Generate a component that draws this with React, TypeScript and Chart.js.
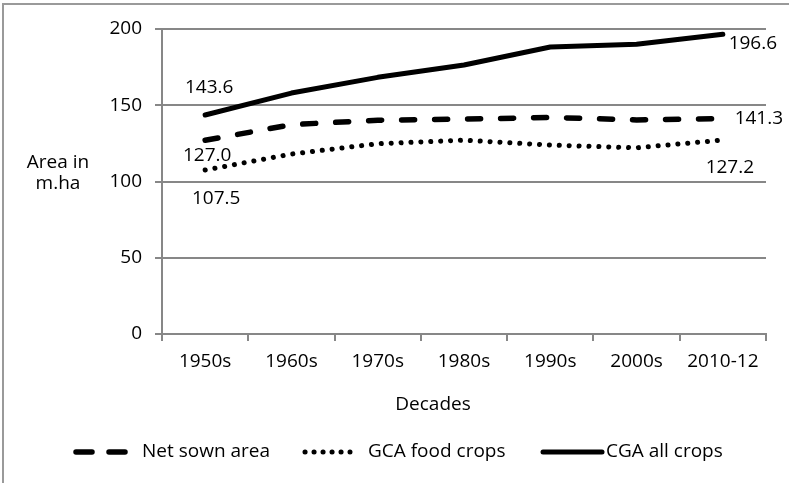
import React, { useEffect, useRef } from "react";
import { Chart, registerables } from "chart.js";

Chart.register(...registerables);

const decades = ["1950s", "1960s", "1970s", "1980s", "1990s", "2000s", "2010-12"];
const netSownArea = [127.0, 137.3, 140.2, 140.9, 142.0, 140.4, 141.3];
const gcaFoodCrops = [107.5, 118.0, 124.8, 127.1, 123.9, 122.1, 127.2];
const cgaAllCrops = [143.6, 158.0, 168.3, 176.4, 188.2, 190.0, 196.6];
const yTicks = [0, 50, 100, 150, 200];

const FONT = "'Open Sans', 'Noto Sans', sans-serif";
const FONT_SIZE = 19;
const GRID = "#878787";
const INK = "#000000";

// where each series' first/last value label sits relative to its point
const labelOffsets = [
  { first: [2, 15], last: [36, 0] },
  { first: [11, 29], last: [7, 28] },
  { first: [4, -27], last: [30, 9] },
];

// legend: sample line start/end and text start, per series
const legendSlots = [
  { x0: 76, x1: 128, tx: 142 },
  { x0: 305, x1: 350, tx: 368 },
  { x0: 543, x1: 602, tx: 606 },
];

const decorPlugin = {
  id: "decor",
  afterDraw(chart: any) {
    const ctx = chart.ctx;
    ctx.save();

    // outer frame
    ctx.strokeStyle = "#9a9a9a";
    ctx.lineWidth = 2;
    ctx.setLineDash([]);
    ctx.beginPath();
    ctx.moveTo(3, 483);
    ctx.lineTo(3, 4);
    ctx.lineTo(789, 4);
    ctx.stroke();

    ctx.fillStyle = INK;
    ctx.font = `${FONT_SIZE}px ${FONT}`;
    ctx.textAlign = "center";
    ctx.textBaseline = "middle";

    // axis titles
    ctx.fillText("Area in", 58, 163);
    ctx.fillText("m.ha", 58, 184);
    ctx.fillText("Decades", 433, 405);

    // first/last value labels
    chart.data.datasets.forEach((ds: any, i: number) => {
      const meta = chart.getDatasetMeta(i);
      const n = meta.data.length;
      const p0 = meta.data[0];
      const pn = meta.data[n - 1];
      const off = labelOffsets[i];
      ctx.fillText(Number(ds.data[0]).toFixed(1), p0.x + off.first[0], p0.y + off.first[1]);
      ctx.fillText(Number(ds.data[n - 1]).toFixed(1), pn.x + off.last[0], pn.y + off.last[1]);
    });

    // legend
    const ly = 452;
    chart.data.datasets.forEach((ds: any, i: number) => {
      const slot = legendSlots[i];
      ctx.save();
      ctx.strokeStyle = ds.borderColor;
      ctx.lineWidth = ds.borderWidth;
      ctx.lineCap = ds.borderCapStyle || "butt";
      ctx.setLineDash(ds.legendDash || ds.borderDash || []);
      ctx.beginPath();
      ctx.moveTo(slot.x0, ly);
      ctx.lineTo(slot.x1, ly);
      ctx.stroke();
      ctx.restore();
      ctx.textAlign = "left";
      ctx.fillText(ds.label, slot.tx, ly);
    });

    ctx.restore();
  },
};

export default function App() {
  const canvasRef = useRef<HTMLCanvasElement | null>(null);

  useEffect(() => {
    const canvas = canvasRef.current;
    if (!canvas) return;
    const chart = new Chart(canvas, {
      type: "line",
      data: {
        labels: decades,
        datasets: [
          {
            label: "Net sown area",
            data: netSownArea,
            borderColor: INK,
            borderWidth: 5.5,
            borderDash: [13, 20],
            legendDash: [16, 17],
            borderCapStyle: "round",
            pointRadius: 0,
            tension: 0,
            fill: false,
          } as any,
          {
            label: "GCA food crops",
            data: gcaFoodCrops,
            borderColor: INK,
            borderWidth: 5,
            borderDash: [0.1, 9.8],
            legendDash: [0.1, 8.9],
            borderCapStyle: "round",
            pointRadius: 0,
            tension: 0,
            fill: false,
          } as any,
          {
            label: "CGA all crops",
            data: cgaAllCrops,
            borderColor: INK,
            borderWidth: 5,
            borderCapStyle: "round",
            borderJoinStyle: "round",
            pointRadius: 0,
            tension: 0,
            fill: false,
          } as any,
        ],
      },
      options: {
        responsive: false,
        devicePixelRatio: 1,
        animation: false,
        events: [],
        layout: { padding: { left: 0, top: 29, right: 23, bottom: 0 } },
        plugins: {
          legend: { display: false },
          tooltip: { enabled: false },
          title: { display: false },
        },
        scales: {
          x: {
            type: "category",
            offset: true,
            grid: {
              offset: true,
              drawOnChartArea: false,
              drawTicks: true,
              tickLength: 7,
              color: GRID,
              lineWidth: 2,
            },
            border: { color: GRID, width: 2 },
            ticks: {
              color: INK,
              font: { family: FONT, size: FONT_SIZE },
              padding: 9,
              maxRotation: 0,
              autoSkip: false,
            },
            afterFit(scale: any) {
              scale.height = 483 - 334;
            },
          },
          y: {
            min: 0,
            max: 200,
            afterBuildTicks(scale: any) {
              scale.ticks = yTicks.map((v) => ({ value: v }));
            },
            grid: {
              color: GRID,
              lineWidth: 2,
              tickLength: 7,
              drawTicks: true,
            },
            border: { color: GRID, width: 2 },
            ticks: {
              color: INK,
              font: { family: FONT, size: FONT_SIZE },
              padding: 13,
            },
            afterFit(scale: any) {
              scale.width = 162;
            },
          },
        },
      },
      plugins: [decorPlugin],
    });
    return () => chart.destroy();
  }, []);

  return (
    <div style={{ position: "absolute", left: 0, top: 0, width: 789, height: 483, background: "#fff" }}>
      <canvas ref={canvasRef} width={789} height={483} style={{ display: "block", width: 789, height: 483 }} />
    </div>
  );
}
